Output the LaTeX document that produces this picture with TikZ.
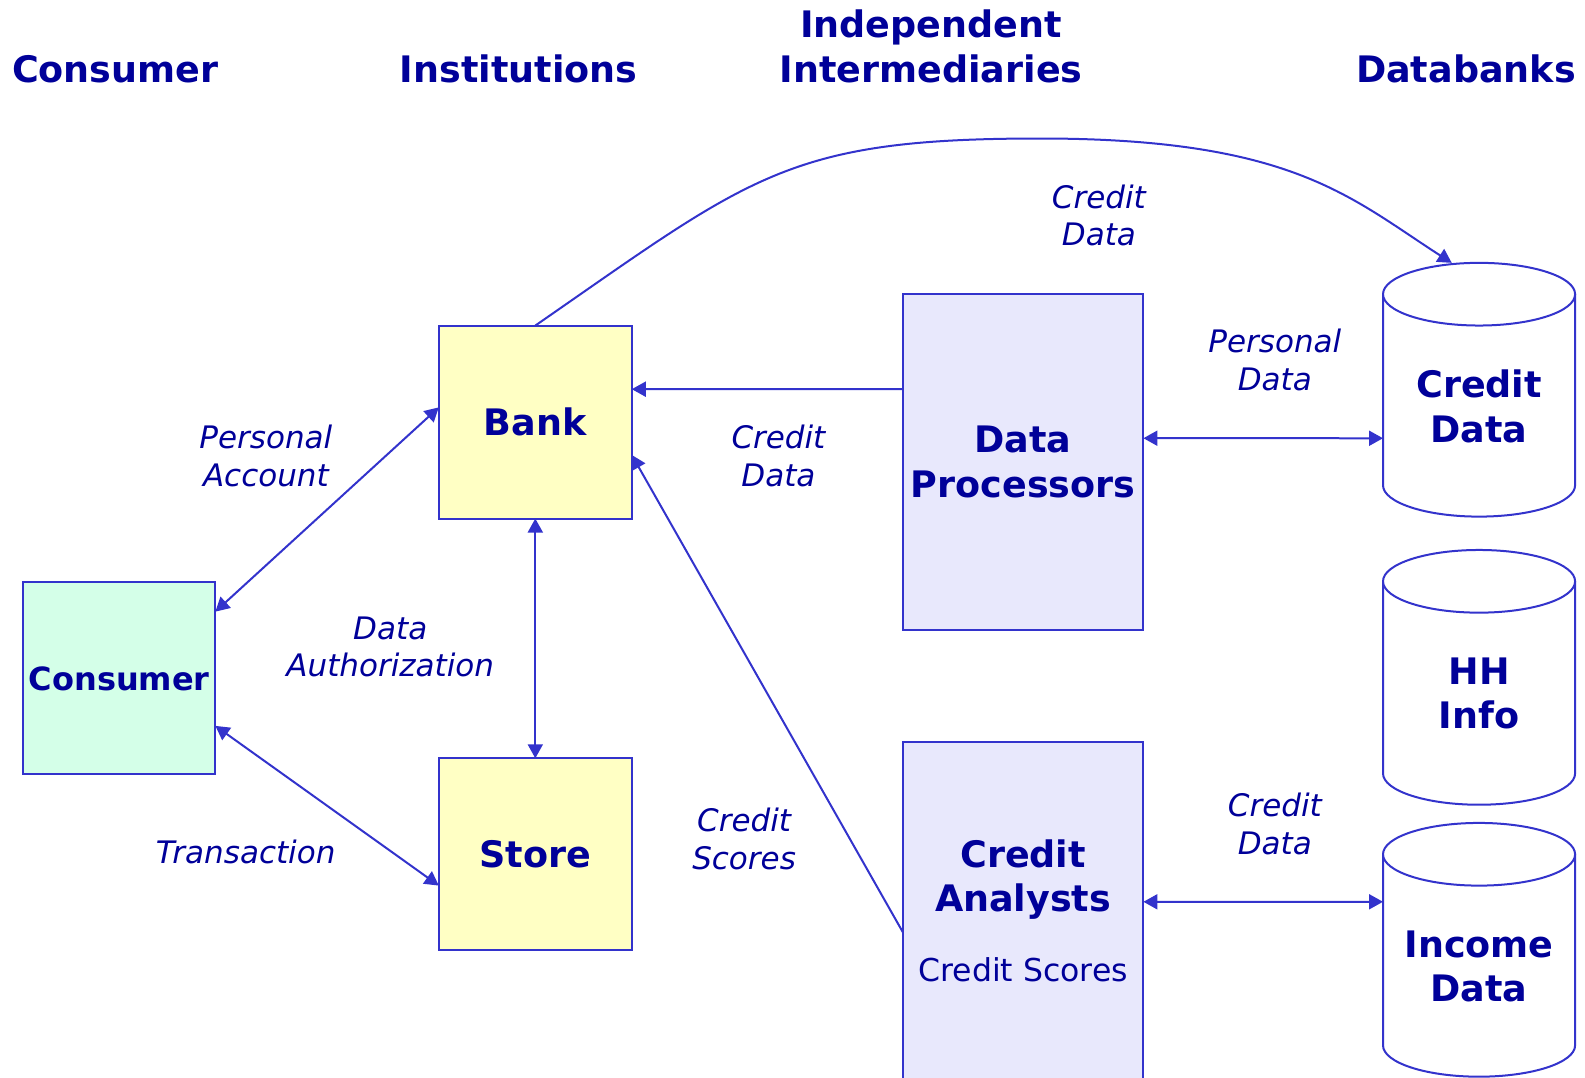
\documentclass[tikz,border=0pt]{standalone}
\usepackage{fontspec}
\setmainfont{DejaVu Sans}
\usetikzlibrary{arrows.meta}
\definecolor{ln}{HTML}{3333CC}
\definecolor{tx}{HTML}{000099}
\definecolor{yel}{HTML}{FFFFC4}
\definecolor{grn}{HTML}{D4FFE8}
\definecolor{lav}{HTML}{E8E8FC}
\newcommand\dbcyl[3]{%
  \draw[cyl] (#1-95,#2) -- (#1-95,#3) arc[start angle=180,end angle=0,x radius=95,y radius=31] -- (#1+95,#2);
  \draw[cyl] (#1,#2) ellipse[x radius=95,y radius=31];
}
\begin{document}
\begin{tikzpicture}[x=1.011pt,y=-1.011pt,
  conn/.style={draw=ln,line width=2pt},
  tip/.style={-{Triangle[length=14pt,width=15pt]}},
  dbl/.style={{Triangle[length=14pt,width=15pt]}-{Triangle[length=14pt,width=15pt]}},
  box/.style={draw=ln,line width=2pt,inner sep=0pt,outer sep=0pt,text=tx,align=center,
     font=\bfseries\fontsize{36.5}{44.5}\selectfont},
  cyl/.style={draw=ln,line width=2pt,fill=white},
  bold/.style={text=tx,align=center,font=\bfseries\fontsize{36.5}{44.5}\selectfont},
  hdr/.style={text=tx,align=center,font=\bfseries\fontsize{36.5}{45.5}\selectfont},
  lbl/.style={text=tx,align=center,font=\itshape\fontsize{31}{37.4}\selectfont},
  reg/.style={text=tx,align=center,font=\fontsize{31.5}{38}\selectfont}]
\useasboundingbox (0,0) rectangle (1567.8,1066.3);
\clip (0,0) rectangle (1567.8,1066.3);
% headers
\node[hdr] (h1) at (114,68) {Consumer};
\node[hdr] (h2) at (513,68) {Institutions};
\node[hdr] (h3) at (921,46) {Independent\\Intermediaries};
\node[hdr] (h4) at (1450,68) {Databanks};
% boxes
\node[box,fill=grn,minimum width=192.1pt,minimum height=192.1pt,font=\bfseries\fontsize{32}{38}\selectfont] (cons) at (118,671) {Consumer};
\node[box,fill=yel,minimum width=193pt,minimum height=193pt] (bank) at (529.5,417.5) {Bank};
\node[box,fill=yel,minimum width=193pt,minimum height=192pt] (store) at (529.5,845) {Store};
\node[box,fill=lav,minimum width=240.6pt,minimum height=335.7pt] (dp) at (1012,457) {Data\\Processors};
\node[box,fill=lav,minimum width=240.6pt,minimum height=360pt] (ca) at (1012,912) {};
\node[bold] (caT) at (1012,870) {Credit\\Analysts};
\node[reg] (caS) at (1012,959) {Credit Scores};
% cylinders
\dbcyl{1463}{291}{480}
\dbcyl{1463}{575}{765}
\dbcyl{1463}{845}{1034}
\node[bold] (cdT) at (1463,402) {Credit\\Data};
\node[bold] (hhT) at (1463,686) {HH\\Info};
\node[bold] (idT) at (1463,956) {Income\\Data};
\coordinate (cdTop) at (1436,260);
\coordinate (cdL) at (1368,433.5);
\coordinate (idL) at (1368,892);
% connectors
\draw[conn,dbl] ([yshift=66.7pt]cons.east) -- ([yshift=14.7pt]bank.west);
\draw[conn,dbl] ([yshift=-47.5pt]cons.east) -- ([yshift=-31.3pt]store.west);
\draw[conn,dbl] (bank.south) -- (store.north);
\draw[conn,tip] ([yshift=72.8pt]dp.west) -- ([yshift=32.9pt]bank.east);
\draw[conn,tip] ([yshift=-10.1pt]ca.west) -- ([yshift=-32.9pt]bank.east);
\draw[conn,tip] (bank.north) .. controls (744,173.6) and (779,137) .. (1029,137)
   .. controls (1279,137) and (1336,196) .. (cdTop);
\draw[conn,dbl] ([yshift=23.8pt]dp.east) -- (cdL);
\draw[conn,dbl] ([yshift=20.2pt]ca.east) -- (idL);
% labels
\node[lbl] (l1) at (263,451) {Personal\\Account};
\node[lbl] (l2) at (386,640) {Data\\Authorization};
\node[lbl] (l3) at (243,843) {Transaction};
\node[lbl] (l4) at (770,451) {Credit\\Data};
\node[lbl] (l5) at (736,830) {Credit\\Scores};
\node[lbl] (l6) at (1087,213) {Credit\\Data};
\node[lbl] (l7) at (1261,356) {Personal\\Data};
\node[lbl] (l8) at (1261,815) {Credit\\Data};
\end{tikzpicture}
\end{document}
